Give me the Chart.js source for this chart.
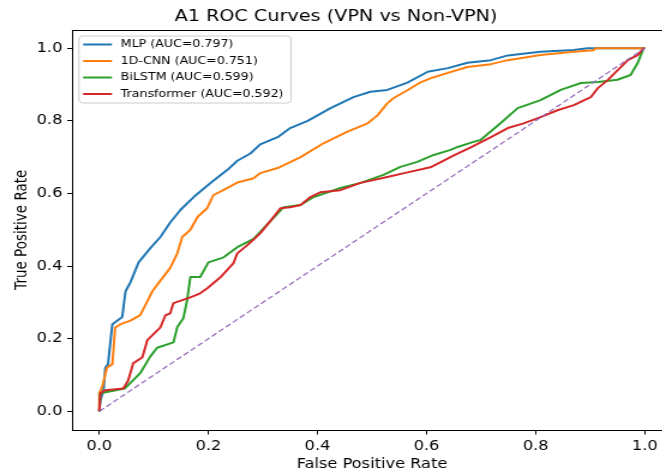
<!DOCTYPE html>
<html><head><meta charset="utf-8">
<script src="https://cdn.jsdelivr.net/npm/chart.js@4"></script>
<style>
html,body{margin:0;padding:0;overflow:hidden;background:#fff;width:662px;height:476px}
</style></head><body>
<canvas id="c" width="620" height="476" style="display:block;width:744px;height:476px"></canvas>
<script>
const titleText = 'A1 ROC Curves (VPN vs Non-VPN)';
const xAxisTitle = 'False Positive Rate';
const yAxisTitle = 'True Positive Rate';
const seriesNames = ['MLP (AUC=0.797)', '1D-CNN (AUC=0.751)', 'BiLSTM (AUC=0.599)', 'Transformer (AUC=0.592)'];
const seriesColors = ['#1f77b4', '#ff7f0e', '#2ca02c', '#d62728'];
const diagColor = '#9467bd';
const tickValues = [0, 0.2, 0.4, 0.6, 0.8, 1.0];
const tickLabels = ['0.0', '0.2', '0.4', '0.6', '0.8', '1.0'];

const mlpFpr = [0,0.002,0.008,0.011,0.016,0.021,0.024,0.042,0.048,0.057,0.072,0.094,0.112,0.130,0.149,0.173,0.209,0.235,0.253,0.277,0.295,0.327,0.350,0.382,0.424,0.466,0.497,0.528,0.565,0.602,0.639,0.675,0.718,0.749,0.809,0.870,0.895,1.0];
const mlpTpr = [0,0.03,0.06,0.12,0.13,0.20,0.24,0.26,0.33,0.355,0.41,0.45,0.48,0.52,0.555,0.59,0.635,0.665,0.69,0.71,0.735,0.755,0.78,0.80,0.835,0.865,0.88,0.885,0.905,0.935,0.945,0.96,0.967,0.98,0.99,0.995,1.0,1.0];

const cnnFpr = [0,0.0,0.005,0.014,0.024,0.029,0.039,0.057,0.075,0.087,0.097,0.112,0.130,0.143,0.152,0.167,0.180,0.198,0.209,0.228,0.253,0.283,0.295,0.327,0.350,0.369,0.411,0.455,0.492,0.510,0.528,0.539,0.565,0.589,0.613,0.639,0.675,0.718,0.749,0.809,0.870,0.906,0.910,1.0];
const cnnTpr = [0,0.05,0.066,0.12,0.13,0.23,0.24,0.25,0.265,0.30,0.33,0.36,0.395,0.435,0.48,0.50,0.535,0.56,0.595,0.61,0.63,0.642,0.656,0.67,0.686,0.70,0.738,0.77,0.793,0.815,0.848,0.862,0.884,0.906,0.92,0.932,0.948,0.956,0.967,0.981,0.99,0.994,1.0,1.0];

const lstmFpr = [0,0.002,0.047,0.075,0.093,0.106,0.136,0.143,0.154,0.161,0.167,0.185,0.200,0.228,0.253,0.283,0.305,0.327,0.338,0.369,0.393,0.442,0.479,0.521,0.552,0.583,0.613,0.644,0.657,0.686,0.699,0.736,0.767,0.809,0.846,0.883,0.914,0.950,0.974,0.987,0.998,1.0];
const lstmTpr = [0,0.05,0.063,0.105,0.15,0.175,0.19,0.232,0.256,0.306,0.37,0.37,0.41,0.424,0.452,0.475,0.51,0.545,0.562,0.568,0.59,0.615,0.629,0.651,0.673,0.687,0.706,0.72,0.728,0.742,0.747,0.794,0.835,0.857,0.885,0.904,0.907,0.913,0.926,0.959,1.0,1.0];

const trfFpr = [0,0.002,0.011,0.044,0.053,0.062,0.079,0.088,0.097,0.112,0.121,0.130,0.136,0.167,0.185,0.198,0.222,0.246,0.253,0.271,0.295,0.319,0.332,0.350,0.369,0.387,0.405,0.442,0.479,0.528,0.565,0.607,0.626,0.650,0.681,0.718,0.749,0.778,0.809,0.840,0.870,0.901,0.914,0.932,0.950,0.969,0.987,0.998,1.0];
const trfTpr = [0,0.05,0.058,0.063,0.085,0.132,0.149,0.196,0.209,0.231,0.264,0.27,0.298,0.314,0.325,0.339,0.369,0.408,0.435,0.457,0.49,0.534,0.559,0.562,0.568,0.59,0.603,0.609,0.629,0.645,0.658,0.672,0.686,0.705,0.727,0.755,0.78,0.793,0.81,0.829,0.843,0.865,0.89,0.912,0.939,0.967,0.981,1.0,1.0];

const diagX = [0, 1];
const diagY = [0, 1];

const toPts = (xs, ys) => xs.map((x, i) => ({x: x, y: ys[i]}));
const curveSets = [[mlpFpr, mlpTpr], [cnnFpr, cnnTpr], [lstmFpr, lstmTpr], [trfFpr, trfTpr]];

const datasets = curveSets.map((s, i) => ({
  label: seriesNames[i],
  data: toPts(s[0], s[1]),
  borderColor: seriesColors[i],
  backgroundColor: seriesColors[i],
  borderWidth: 2,
  showLine: true,
  pointRadius: 0,
  tension: 0,
  borderJoinStyle: 'round',
  order: 5 - i
}));
datasets.push({
  label: 'diag',
  data: toPts(diagX, diagY),
  borderColor: diagColor,
  borderWidth: 1.2,
  borderDash: [5, 2.5],
  showLine: true,
  pointRadius: 0,
  order: 1
});

const FONT = '"DejaVu Sans", sans-serif';

const framePlugin = {
  id: 'mplFrame',
  afterDatasetsDraw(chart) {
    const ctx = chart.ctx, ca = chart.chartArea;
    ctx.save();
    ctx.strokeStyle = '#000';
    ctx.lineWidth = 1;
    ctx.strokeRect(Math.round(ca.left) + 0.5, Math.round(ca.top) + 0.5, Math.round(ca.right - ca.left), Math.round(ca.bottom - ca.top));
    const x0 = ca.left + 5.8, y0 = ca.top + 6, w = 176.7, h = 67;
    ctx.beginPath();
    ctx.roundRect(x0, y0, w, h, 3);
    ctx.fillStyle = 'rgba(255,255,255,0.8)';
    ctx.fill();
    ctx.strokeStyle = '#cccccc';
    ctx.stroke();
    ctx.font = '10.5px ' + FONT;
    ctx.textBaseline = 'middle';
    ctx.textAlign = 'left';
    seriesNames.forEach((name, i) => {
      const y = y0 + 8.5 + i * 16.5;
      ctx.strokeStyle = seriesColors[i];
      ctx.lineWidth = 2;
      ctx.beginPath();
      ctx.moveTo(x0 + 3.4, y);
      ctx.lineTo(x0 + 27.5, y);
      ctx.stroke();
      ctx.fillStyle = '#000';
      ctx.fillText(name, x0 + 34.8, y);
    });
    ctx.restore();
  }
};

const chart = new Chart(document.getElementById('c'), {
  type: 'scatter',
  data: { datasets: datasets },
  plugins: [framePlugin],
  options: {
    responsive: false,
    animation: false,
    layout: { padding: { left: 0, right: 60, top: 0, bottom: 0 } },
    plugins: {
      legend: { display: false },
      tooltip: { enabled: false },
      title: {
        display: true,
        text: titleText,
        color: '#000',
        font: { family: FONT, size: 16, weight: 'normal' },
        padding: { top: 7.6, bottom: 3.2 }
      }
    },
    scales: {
      x: {
        type: 'linear',
        min: -0.05, max: 1.05,
        afterBuildTicks: (s) => { s.ticks = tickValues.map(v => ({ value: v })); },
        afterFit: (s) => { s.height = 46.5; },
        ticks: {
          callback: (v, i) => tickLabels[i],
          color: '#000',
          font: { family: FONT, size: 13.5 },
          padding: 4,
          maxRotation: 0
        },
        grid: { drawOnChartArea: false, drawTicks: true, tickLength: 5, color: '#000', lineWidth: 1 },
        border: { display: false },
        title: { display: true, text: xAxisTitle, color: '#000', font: { family: FONT, size: 13.5 }, padding: { top: 0, bottom: 3 } }
      },
      y: {
        type: 'linear',
        min: -0.05, max: 1.05,
        afterBuildTicks: (s) => { s.ticks = tickValues.map(v => ({ value: v })); },
        afterFit: (s) => { s.width = 60; },
        ticks: {
          callback: (v, i) => tickLabels[i],
          color: '#000',
          font: { family: FONT, size: 13.5 },
          padding: 4
        },
        grid: { drawOnChartArea: false, drawTicks: true, tickLength: 4, color: '#000', lineWidth: 1 },
        border: { display: false },
        title: { display: true, text: yAxisTitle, color: '#000', font: { family: FONT, size: 13.5 }, padding: { top: 10, bottom: 0 } }
      }
    }
  }
});
const cv = document.getElementById('c');
cv.style.width = '744px';
cv.style.height = '476px';
</script>
</body></html>
